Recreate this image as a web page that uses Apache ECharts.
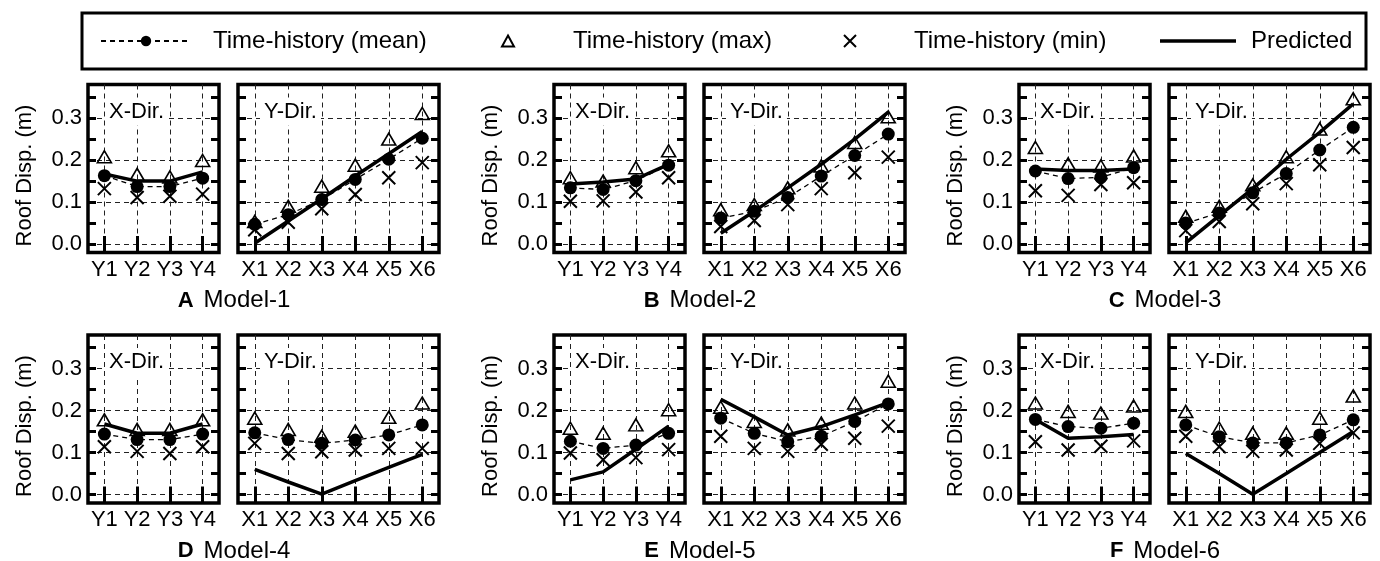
<!DOCTYPE html>
<html>
<head>
<meta charset="utf-8">
<script src="https://cdn.jsdelivr.net/npm/echarts@6/dist/echarts.min.js"></script>
<style>
  html, body { margin: 0; padding: 0; background: #fff; }
  #chart { width: 1380px; height: 561px; }
</style>
</head>
<body>
<div id="chart"></div>
<script>
// Storey labels along each direction
const storeysX = ['Y1', 'Y2', 'Y3', 'Y4'];
const storeysY = ['X1', 'X2', 'X3', 'X4', 'X5', 'X6'];
const yTickValues = [0, 0.05, 0.1, 0.15, 0.2, 0.25, 0.3, 0.35];
const yLabelValues = [0, 0.1, 0.2, 0.3];
const modelNames = ['Model-1', 'Model-2', 'Model-3', 'Model-4', 'Model-5', 'Model-6'];
const modelLetters = ['A', 'B', 'C', 'D', 'E', 'F'];

// Roof displacement (m) — X direction (Y1..Y4)
const m1XMean = [0.163, 0.137, 0.137, 0.157];
const m1XMax  = [0.208, 0.166, 0.160, 0.199];
const m1XMin  = [0.132, 0.111, 0.114, 0.119];
const m1XPred = [0.167, 0.150, 0.150, 0.172];
// Roof displacement (m) — Y direction (X1..X6)
const m1YMean = [0.047, 0.070, 0.106, 0.154, 0.202, 0.252];
const m1YMax  = [0.054, 0.090, 0.138, 0.188, 0.250, 0.311];
const m1YMin  = [0.034, 0.052, 0.084, 0.118, 0.158, 0.194];
const m1YPred = [0.002, 0.055, 0.108, 0.162, 0.215, 0.268];

const m2XMean = [0.134, 0.130, 0.151, 0.188];
const m2XMax  = [0.158, 0.150, 0.182, 0.222];
const m2XMin  = [0.102, 0.103, 0.124, 0.158];
const m2XPred = [0.143, 0.148, 0.155, 0.190];
const m2YMean = [0.062, 0.078, 0.111, 0.162, 0.211, 0.262];
const m2YMax  = [0.082, 0.094, 0.134, 0.186, 0.242, 0.303];
const m2YMin  = [0.042, 0.056, 0.094, 0.132, 0.170, 0.207];
const m2YPred = [0.026, 0.078, 0.134, 0.190, 0.250, 0.314];

const m3XMean = [0.174, 0.156, 0.159, 0.182];
const m3XMax  = [0.230, 0.191, 0.186, 0.210];
const m3XMin  = [0.127, 0.116, 0.142, 0.146];
const m3XPred = [0.179, 0.175, 0.175, 0.179];
const m3YMean = [0.050, 0.074, 0.122, 0.168, 0.224, 0.278];
const m3YMax  = [0.066, 0.090, 0.141, 0.208, 0.274, 0.346];
const m3YMin  = [0.032, 0.054, 0.096, 0.144, 0.189, 0.230];
const m3YPred = [0.003, 0.068, 0.132, 0.202, 0.266, 0.334];

const m4XMean = [0.144, 0.131, 0.131, 0.144];
const m4XMax  = [0.178, 0.155, 0.155, 0.178];
const m4XMin  = [0.114, 0.103, 0.098, 0.114];
const m4XPred = [0.168, 0.146, 0.146, 0.168];
const m4YMean = [0.147, 0.131, 0.122, 0.130, 0.142, 0.166];
const m4YMax  = [0.182, 0.155, 0.139, 0.151, 0.184, 0.218];
const m4YMin  = [0.122, 0.098, 0.102, 0.106, 0.110, 0.110];
const m4YPred = [0.060, 0.030, 0.001, 0.033, 0.065, 0.096];

const m5XMean = [0.127, 0.110, 0.118, 0.146];
const m5XMax  = [0.158, 0.146, 0.166, 0.202];
const m5XMin  = [0.099, 0.083, 0.088, 0.107];
const m5XPred = [0.035, 0.054, 0.108, 0.163];
const m5YMean = [0.182, 0.146, 0.126, 0.139, 0.174, 0.216];
const m5YMax  = [0.208, 0.174, 0.154, 0.170, 0.218, 0.270];
const m5YMin  = [0.139, 0.110, 0.103, 0.120, 0.134, 0.163];
const m5YPred = [0.227, 0.185, 0.142, 0.162, 0.190, 0.219];

const m6XMean = [0.179, 0.162, 0.158, 0.170];
const m6XMax  = [0.218, 0.198, 0.194, 0.211];
const m6XMin  = [0.126, 0.106, 0.115, 0.128];
const m6XPred = [0.179, 0.134, 0.138, 0.143];
const m6YMean = [0.166, 0.138, 0.123, 0.123, 0.142, 0.178];
const m6YMax  = [0.198, 0.158, 0.146, 0.146, 0.182, 0.235];
const m6YMin  = [0.139, 0.114, 0.103, 0.106, 0.122, 0.147];
const m6YPred = [0.098, 0.050, 0.001, 0.050, 0.100, 0.150];

const panels = [
  { model: 0, dir: 'X', cats: storeysX, mean: m1XMean, max: m1XMax, min: m1XMin, pred: m1XPred },
  { model: 0, dir: 'Y', cats: storeysY, mean: m1YMean, max: m1YMax, min: m1YMin, pred: m1YPred },
  { model: 1, dir: 'X', cats: storeysX, mean: m2XMean, max: m2XMax, min: m2XMin, pred: m2XPred },
  { model: 1, dir: 'Y', cats: storeysY, mean: m2YMean, max: m2YMax, min: m2YMin, pred: m2YPred },
  { model: 2, dir: 'X', cats: storeysX, mean: m3XMean, max: m3XMax, min: m3XMin, pred: m3XPred },
  { model: 2, dir: 'Y', cats: storeysY, mean: m3YMean, max: m3YMax, min: m3YMin, pred: m3YPred },
  { model: 3, dir: 'X', cats: storeysX, mean: m4XMean, max: m4XMax, min: m4XMin, pred: m4XPred },
  { model: 3, dir: 'Y', cats: storeysY, mean: m4YMean, max: m4YMax, min: m4YMin, pred: m4YPred },
  { model: 4, dir: 'X', cats: storeysX, mean: m5XMean, max: m5XMax, min: m5XMin, pred: m5XPred },
  { model: 4, dir: 'Y', cats: storeysY, mean: m5YMean, max: m5YMax, min: m5YMin, pred: m5YPred },
  { model: 5, dir: 'X', cats: storeysX, mean: m6XMean, max: m6XMax, min: m6XMin, pred: m6XPred },
  { model: 5, dir: 'Y', cats: storeysY, mean: m6YMean, max: m6YMax, min: m6YMin, pred: m6YPred }
];

// Layout
const FONT = "'Liberation Sans', Arial, Helvetica, sans-serif";
const groupLeft = [88, 554, 1019];
const rowTop = [84.5, 335];
const plotH = 168;
const xPanelW = 131;
const panelGap = 19;
const yPanelW = 201;
const yMin = -0.02, yMax = 0.38;

const NAME_MEAN = 'Time-history (mean)';
const NAME_MAX = 'Time-history (max)';
const NAME_MIN = 'Time-history (min)';
const NAME_PRED = 'Predicted';
const CROSS = 'path://M0,0L10,10M10,0L0,10';

const grids = [], xAxes = [], yAxes = [], series = [], graphics = [];
const dashed = { color: '#222', width: 1, type: [5, 4] };

panels.forEach((p, i) => {
  const col = p.model % 3, row = Math.floor(p.model / 3);
  const isX = p.dir === 'X';
  const left = groupLeft[col] + (isX ? 0 : xPanelW + panelGap);
  const width = isX ? xPanelW : yPanelW;
  const top = rowTop[row];
  const n = p.cats.length;
  const catVals = p.cats.map((_, k) => k + 1);

  grids.push({ left, top, width, height: plotH, show: true, borderColor: '#000', borderWidth: 3.5, backgroundColor: 'transparent' });

  const tick = { show: true, inside: true, length: 8, lineStyle: { color: '#000', width: 3 } };
  // bottom storey axis (labels + vertical grid lines)
  xAxes.push({
    type: 'value', gridIndex: i, min: 0.5, max: n + 0.5, position: 'bottom',
    axisLine: { show: false },
    axisTick: Object.assign({ customValues: catVals }, tick),
    axisLabel: { show: true, customValues: catVals, formatter: v => p.cats[Math.round(v) - 1], fontSize: 22, fontFamily: FONT, color: '#000', margin: 6 },
    splitLine: { show: true, lineStyle: dashed }
  });
  // top mirror ticks
  xAxes.push({
    type: 'value', gridIndex: i, min: 0.5, max: n + 0.5, position: 'top',
    axisLine: { show: false },
    axisTick: Object.assign({ customValues: catVals }, tick),
    axisLabel: { show: false },
    splitLine: { show: false }
  });
  // left axis: ticks + labels
  yAxes.push({
    type: 'value', gridIndex: i, min: yMin, max: yMax, position: 'left',
    axisLine: { show: false },
    axisTick: Object.assign({ customValues: yTickValues }, tick),
    axisLabel: { show: isX, customValues: yLabelValues, formatter: v => v.toFixed(1), fontSize: 22, fontFamily: FONT, color: '#000', margin: 6 },
    splitLine: { show: false }
  });
  // right mirror ticks
  yAxes.push({
    type: 'value', gridIndex: i, min: yMin, max: yMax, position: 'right',
    axisLine: { show: false },
    axisTick: Object.assign({ customValues: yTickValues }, tick),
    axisLabel: { show: false },
    splitLine: { show: false }
  });
  // horizontal dashed grid lines every 0.1
  yAxes.push({
    type: 'value', gridIndex: i, min: yMin, max: yMax, position: 'left',
    axisLine: { show: false },
    axisTick: { show: false, customValues: yLabelValues },
    axisLabel: { show: false },
    splitLine: { show: true, lineStyle: dashed }
  });

  const xi = 2 * i, yi = 3 * i;
  const pairs = arr => arr.map((v, k) => [k + 1, v]);
  series.push({
    type: 'line', name: NAME_PRED, xAxisIndex: xi, yAxisIndex: yi, data: pairs(p.pred),
    symbol: 'none', showSymbol: false, lineStyle: { color: '#000', width: 3.5 }, itemStyle: { color: '#000' },
    z: 3, silent: true, animation: false
  });
  series.push({
    type: 'line', name: NAME_MEAN, xAxisIndex: xi, yAxisIndex: yi, data: pairs(p.mean),
    symbol: 'circle', symbolSize: 13, lineStyle: { color: '#000', width: 1.3, type: [5, 4] }, itemStyle: { color: '#000', opacity: 1 },
    z: 4, silent: true, animation: false
  });
  series.push({
    type: 'scatter', name: NAME_MAX, xAxisIndex: xi, yAxisIndex: yi, data: pairs(p.max),
    symbol: 'triangle', symbolSize: [14, 12], itemStyle: { color: 'rgba(255,255,255,0)', borderColor: '#000', borderWidth: 1.6, opacity: 1 },
    z: 5, silent: true, animation: false
  });
  series.push({
    type: 'scatter', name: NAME_MIN, xAxisIndex: xi, yAxisIndex: yi, data: pairs(p.min),
    symbol: CROSS, symbolSize: 13, itemStyle: { color: 'rgba(0,0,0,0)', borderColor: '#000', borderWidth: 2, opacity: 1 },
    z: 5, silent: true, animation: false
  });

  // direction tag in the upper-left corner of each panel
  graphics.push({
    type: 'text', z: 10, x: left + (isX ? 17 : 22), y: top + 27,
    style: { text: isX ? 'X-Dir.' : 'Y-Dir.', font: '22px ' + FONT, fill: '#000', verticalAlign: 'middle', align: 'left', backgroundColor: '#fff', padding: [3, 4] }
  });

  if (isX) {
    graphics.push({
      type: 'text', z: 10, x: left - 63, y: top + 91, rotation: Math.PI / 2,
      style: { text: 'Roof Disp. (m)', font: '22px ' + FONT, fill: '#000', align: 'center', verticalAlign: 'middle' }
    });
    graphics.push({
      type: 'text', z: 10, x: left + 146, y: top + 216,
      style: {
        text: '{b|' + modelLetters[p.model] + '}{s| }{n|' + modelNames[p.model] + '}',
        align: 'center', verticalAlign: 'middle',
        rich: {
          b: { font: 'bold 22px ' + FONT, fill: '#000' },
          s: { font: '22px ' + FONT, width: 10 },
          n: { font: '24px ' + FONT, fill: '#000' }
        }
      }
    });
  }
});

// legend frame
graphics.push({
  type: 'rect', z: 0, shape: { x: 82, y: 13, width: 1284, height: 56 },
  style: { fill: 'none', stroke: '#000', lineWidth: 3 }
});

const legendText = { fontSize: 24, fontFamily: FONT, color: '#000' };
const legends = [
  { data: [NAME_MEAN], left: 100, itemWidth: 90, itemHeight: 13, textStyle: Object.assign({ padding: [0, 0, 0, 17] }, legendText) },
  { data: [NAME_MAX], left: 501, itemWidth: 12, itemHeight: 11, textStyle: Object.assign({ padding: [0, 0, 0, 54] }, legendText) },
  { data: [NAME_MIN], left: 843, itemWidth: 12, itemHeight: 12, textStyle: Object.assign({ padding: [0, 0, 0, 53] }, legendText) },
  { data: [{ name: NAME_PRED, icon: 'rect' }], left: 1160, itemWidth: 76, itemHeight: 3.5, textStyle: Object.assign({ padding: [0, 0, 0, 10] }, legendText) }
].map(l => Object.assign({ top: 29, padding: 0, selectedMode: false, orient: 'horizontal' }, l));

const chart = echarts.init(document.getElementById('chart'), null, { renderer: 'canvas' });
chart.setOption({
  animation: false,
  backgroundColor: '#fff',
  textStyle: { fontFamily: FONT },
  legend: legends,
  grid: grids,
  xAxis: xAxes,
  yAxis: yAxes,
  series: series,
  graphic: graphics
});
</script>
</body>
</html>
